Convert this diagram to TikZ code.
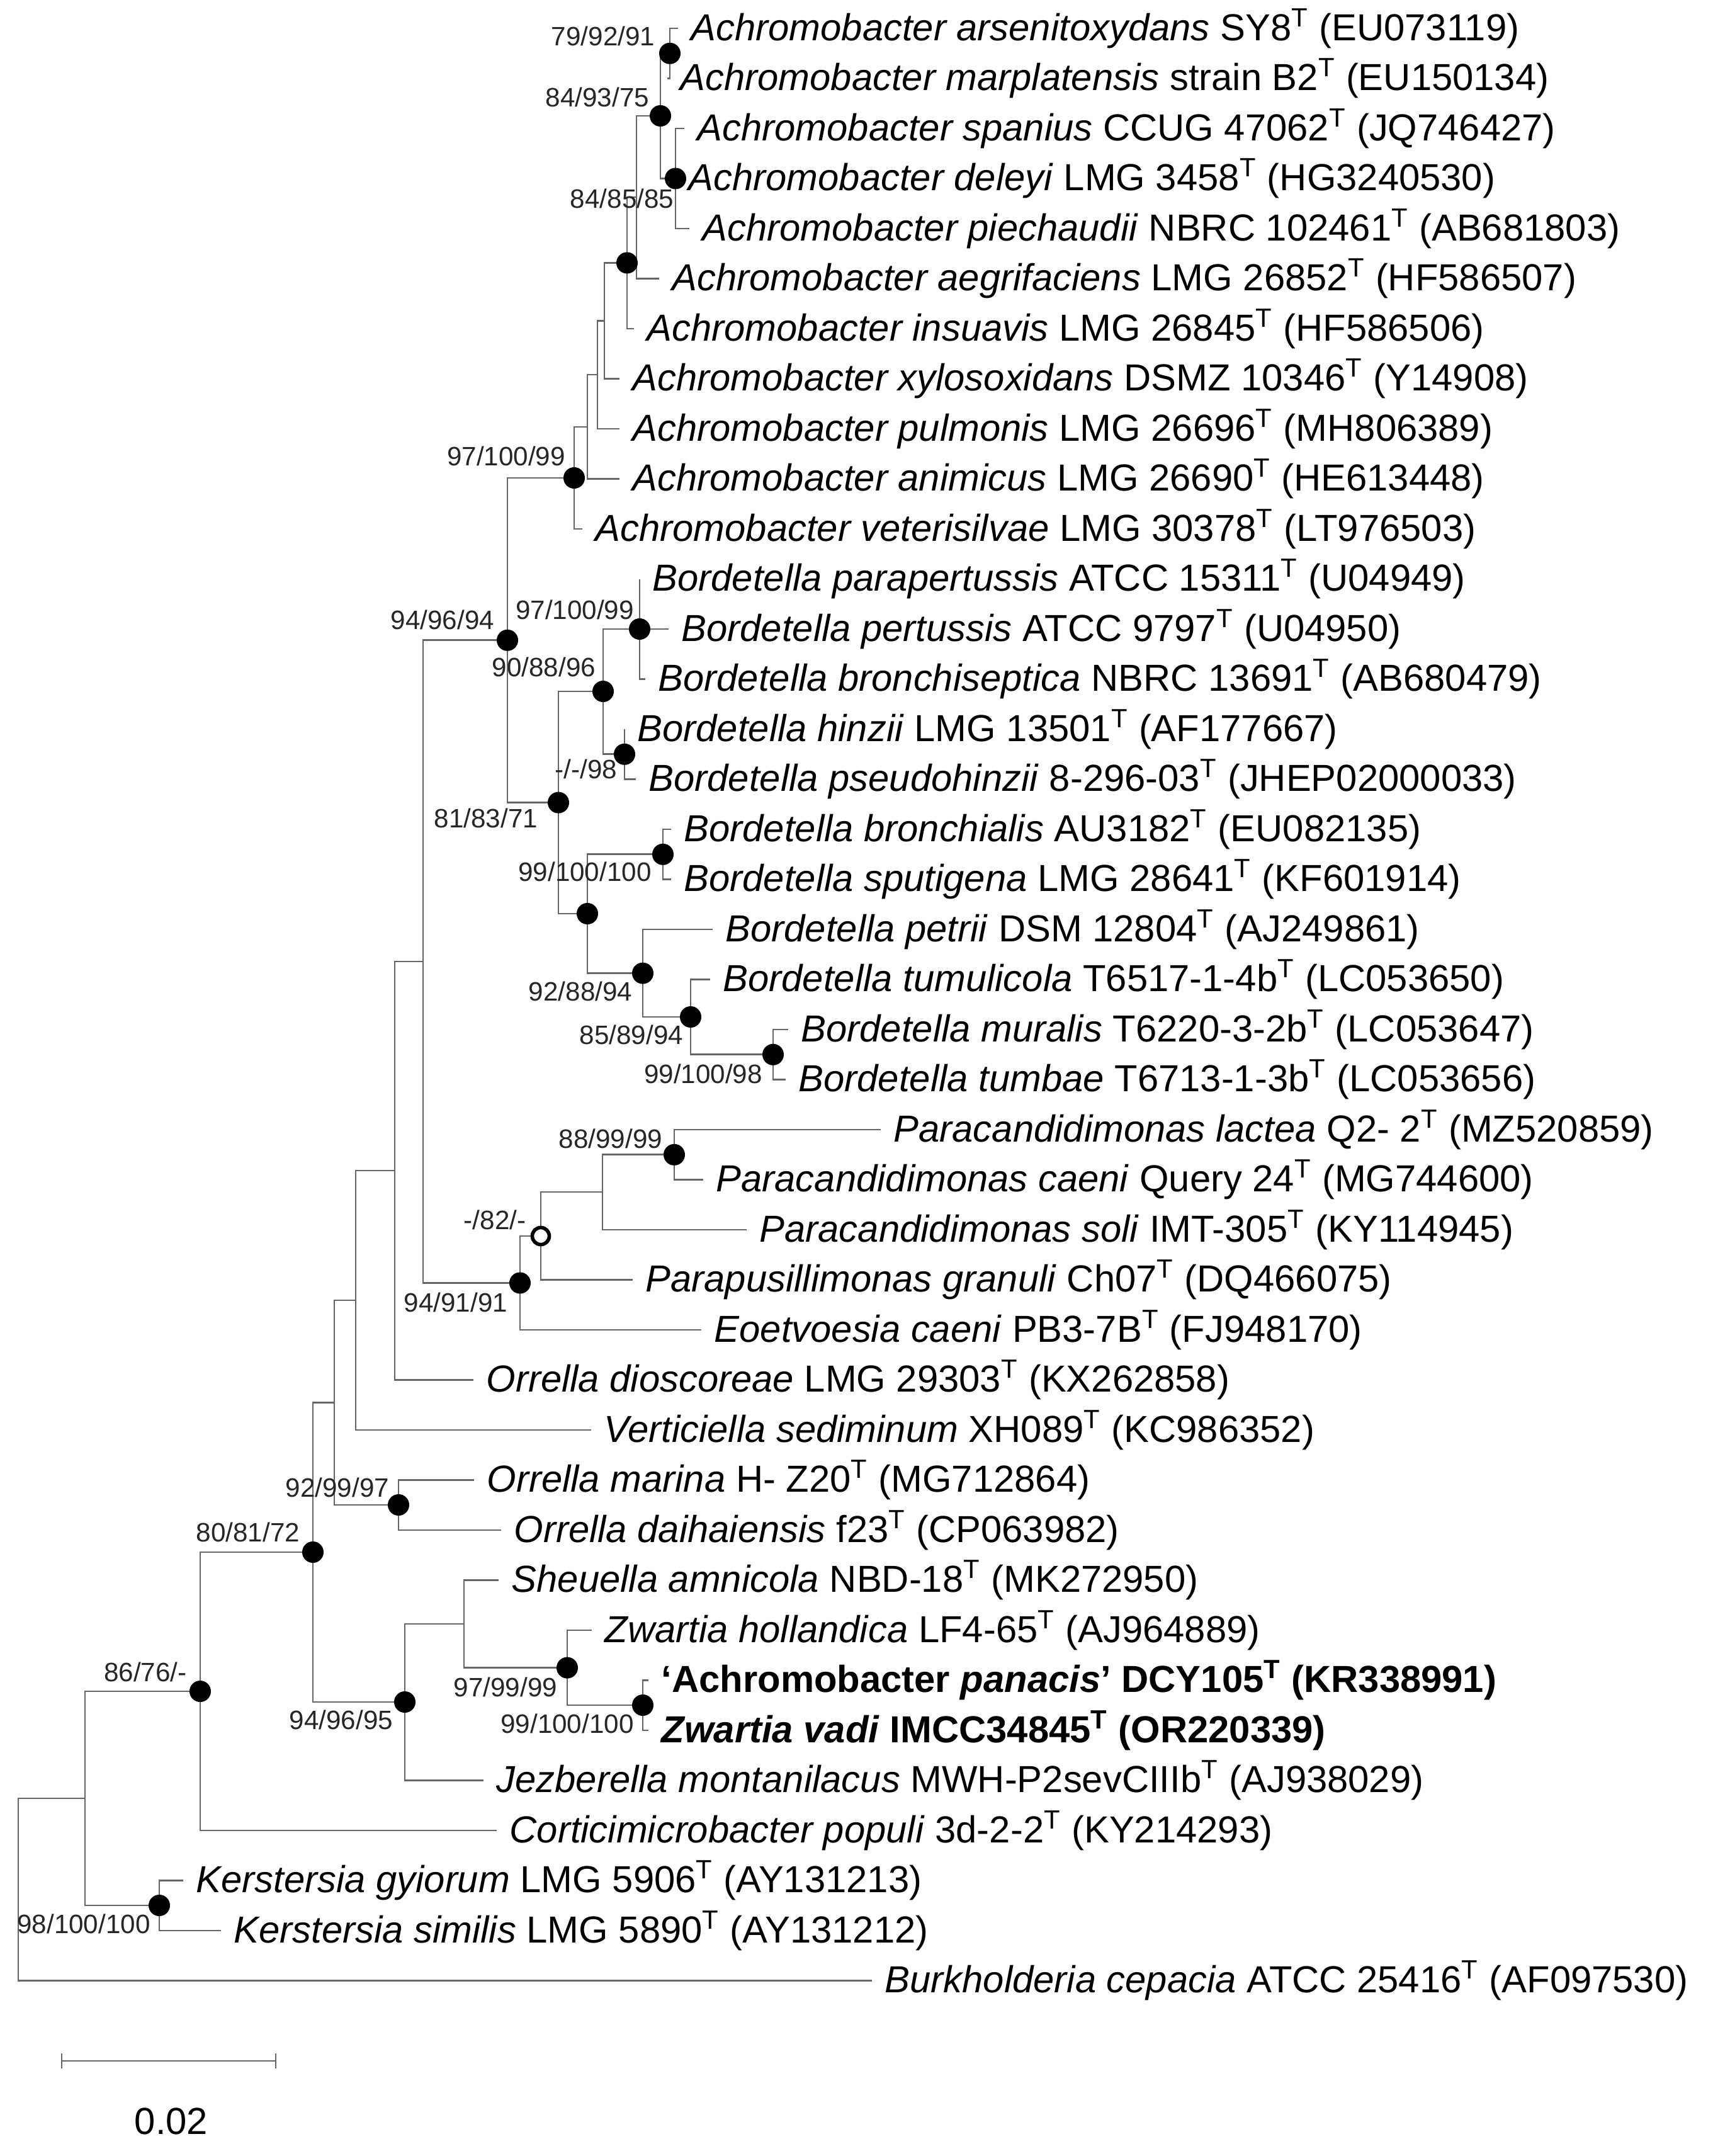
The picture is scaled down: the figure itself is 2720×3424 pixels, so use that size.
\documentclass[tikz,border=0pt]{standalone}
\usepackage{fontspec}
\setmainfont{Liberation Sans}
\usetikzlibrary{calc}
\newcommand{\tstr}{\textsuperscript{T}}
\tikzset{
  branch/.style={draw=black!60, line width=0.8pt},
  dot/.style={circle, fill=black, inner sep=0pt, minimum size=0.34cm},
  odot/.style={circle, draw=black, fill=white, line width=1.6pt, inner sep=0pt, minimum size=0.27cm},
  taxon/.style={anchor=west, inner sep=0pt, xshift=0.2cm, font=\fontsize{17}{20}\selectfont},
  sup/.style={inner sep=0pt, font=\fontsize{12}{14}\selectfont, text=black!85}
}
\begin{document}
\begin{tikzpicture}[x=0.01cm, y=-0.01cm]
\useasboundingbox (0,0) rectangle (2720,3424);
% leaves
\coordinate (l1) at (1077,45);     \coordinate (l2) at (1060,124.5);
\coordinate (l3) at (1087,204);    \coordinate (l4) at (1073,283.5);
\coordinate (l5) at (1095,363);    \coordinate (l6) at (1047,442.5);
\coordinate (l7) at (1007,522);    \coordinate (l8) at (984,601.5);
\coordinate (l9) at (984,681);     \coordinate (l10) at (984,760.5);
\coordinate (l11) at (925,840);    \coordinate (l12) at (1016,919.5);
\coordinate (l13) at (1062,999);   \coordinate (l14) at (1025,1078.5);
\coordinate (l15) at (992,1158);   \coordinate (l16) at (1010,1237.5);
\coordinate (l17) at (1066,1317);  \coordinate (l18) at (1066,1396.5);
\coordinate (l19) at (1132,1476);  \coordinate (l20) at (1128,1555.5);
\coordinate (l21) at (1252,1635);  \coordinate (l22) at (1248,1714.5);
\coordinate (l23) at (1399,1794);  \coordinate (l24) at (1117,1873.5);
\coordinate (l25) at (1186,1953);  \coordinate (l26) at (1005,2032.5);
\coordinate (l27) at (1114,2112);  \coordinate (l28) at (752,2191.5);
\coordinate (l29) at (939,2271);   \coordinate (l30) at (753,2350.5);
\coordinate (l31) at (796,2430);   \coordinate (l32) at (792,2509.5);
\coordinate (l33) at (940,2589);   \coordinate (l34) at (1030,2668.5);
\coordinate (l35) at (1030,2748);  \coordinate (l36) at (768,2827.5);
\coordinate (l37) at (789,2907);   \coordinate (l38) at (291,2986.5);
\coordinate (l39) at (351,3066);   \coordinate (l40) at (1385,3145.5);
% inner nodes
\coordinate (a79) at (1064,84.8);   \coordinate (adel) at (1073,283.5);
\coordinate (a84b) at (1049,184);   \coordinate (ab) at (1011,313);
\coordinate (a84a) at (996,417.5);  \coordinate (ac) at (960,509.5);
\coordinate (ad) at (949,595);      \coordinate (ae) at (933,678);
\coordinate (a97) at (912,759);
\coordinate (b97) at (1016,999);    \coordinate (b98) at (992,1197.8);
\coordinate (b90) at (958,1098);    \coordinate (bbr) at (1053,1356.8);
\coordinate (bmu) at (1228,1674.8); \coordinate (b85) at (1097,1615);
\coordinate (b92) at (1021,1545.6); \coordinate (bc) at (933,1451);
\coordinate (b81) at (887,1274.6);  \coordinate (a94) at (806,1016.8);
\coordinate (p88) at (1071,1833.8); \coordinate (pa) at (957,1893);
\coordinate (p82) at (859,1963);    \coordinate (p94) at (826,2037.5);
\coordinate (r1) at (672,1527);     \coordinate (r2) at (627,1859);
\coordinate (r3) at (565,2065);     \coordinate (o92) at (633,2390);
\coordinate (r4) at (531,2227.6);
\coordinate (z99) at (1021,2708);   \coordinate (z97) at (901,2648.6);
\coordinate (zs) at (737,2579);     \coordinate (z94) at (643,2703);
\coordinate (n80) at (497,2465);    \coordinate (n86) at (318,2686);
\coordinate (k98) at (253,3026);    \coordinate (k62) at (135,2856);
\coordinate (root) at (29,3000.8);
% branches
\foreach \p/\c in {a79/l1, a79/l2, adel/l3, adel/l4, adel/l5, a84b/a79, a84b/adel,
  ab/a84b, ab/l6, a84a/ab, a84a/l7, ac/a84a, ac/l8, ad/ac, ad/l9, ae/ad, ae/l10,
  a97/ae, a97/l11, b97/l12, b97/l13, b97/l14, b98/l15, b98/l16, b90/b97, b90/b98,
  bbr/l17, bbr/l18, bmu/l21, bmu/l22, b85/l20, b85/bmu, b92/l19, b92/b85,
  bc/bbr, bc/b92, b81/b90, b81/bc, a94/a97, a94/b81,
  p88/l23, p88/l24, pa/p88, pa/l25, p82/pa, p82/l26, p94/p82, p94/l27,
  r1/a94, r1/p94, r2/r1, r2/l28, r3/r2, r3/l29, o92/l30, o92/l31, r4/r3, r4/o92,
  z99/l34, z99/l35, z97/l33, z97/z99, zs/l32, zs/z97, z94/zs, z94/l36,
  n80/r4, n80/z94, n86/n80, n86/l37, k98/l38, k98/l39, k62/n86, k62/k98,
  root/k62, root/l40}
  \draw[branch] (\p) |- (\c);
% support dots
\foreach \n in {a79, adel, a84b, a84a, a97, b97, b98, b90, bbr, bmu, b85, b92, bc,
  b81, a94, p88, p94, o92, z99, z97, z94, n80, n86, k98}
  \node[dot] at (\n) {};
\node[odot] at (p82) {};
% support values
\node[sup] at (958,57) {79/92/91};
\node[sup] at (949,154) {84/93/75};
\node[sup] at (988,315) {84/85/85};
\node[sup] at (804,724) {97/100/99};
\node[sup] at (703,984) {94/96/94};
\node[sup] at (913,968) {97/100/99};
\node[sup] at (864,1059) {90/88/96};
\node[sup] at (931,1221) {-/-/98};
\node[sup] at (772,1299) {81/83/71};
\node[sup] at (929,1384) {99/100/100};
\node[sup] at (922,1574) {92/88/94};
\node[sup] at (1003,1643) {85/89/94};
\node[sup] at (1117,1705) {99/100/98};
\node[sup] at (970,1808) {88/99/99};
\node[sup] at (786,1937) {-/82/-};
\node[sup] at (724,2068) {94/91/91};
\node[sup] at (536,2362) {92/99/97};
\node[sup] at (394,2433) {80/81/72};
\node[sup] at (231,2655) {86/76/-};
\node[sup] at (542,2731) {94/96/95};
\node[sup] at (803,2679) {97/99/99};
\node[sup] at (901,2737) {99/100/100};
\node[sup] at (133,3055) {98/100/100};
% taxa
\node[taxon] (t1) at (l1) {\textit{Achromobacter arsenitoxydans} SY8\tstr{} (EU073119)};
\node[taxon] (t2) at (l2) {\textit{Achromobacter marplatensis} strain B2\tstr{} (EU150134)};
\node[taxon] (t3) at (l3) {\textit{Achromobacter spanius} CCUG 47062\tstr{} (JQ746427)};
\node[taxon] (t4) at (l4) {\textit{Achromobacter deleyi} LMG 3458\tstr{} (HG3240530)};
\node[taxon] (t5) at (l5) {\textit{Achromobacter piechaudii} NBRC 102461\tstr{} (AB681803)};
\node[taxon] (t6) at (l6) {\textit{Achromobacter aegrifaciens} LMG 26852\tstr{} (HF586507)};
\node[taxon] (t7) at (l7) {\textit{Achromobacter insuavis} LMG 26845\tstr{} (HF586506)};
\node[taxon] (t8) at (l8) {\textit{Achromobacter xylosoxidans} DSMZ 10346\tstr{} (Y14908)};
\node[taxon] (t9) at (l9) {\textit{Achromobacter pulmonis} LMG 26696\tstr{} (MH806389)};
\node[taxon] (t10) at (l10) {\textit{Achromobacter animicus} LMG 26690\tstr{} (HE613448)};
\node[taxon] (t11) at (l11) {\textit{Achromobacter veterisilvae} LMG 30378\tstr{} (LT976503)};
\node[taxon] (t12) at (l12) {\textit{Bordetella parapertussis} ATCC 15311\tstr{} (U04949)};
\node[taxon] (t13) at (l13) {\textit{Bordetella pertussis} ATCC 9797\tstr{} (U04950)};
\node[taxon] (t14) at (l14) {\textit{Bordetella bronchiseptica} NBRC 13691\tstr{} (AB680479)};
\node[taxon] (t15) at (l15) {\textit{Bordetella hinzii} LMG 13501\tstr{} (AF177667)};
\node[taxon] (t16) at (l16) {\textit{Bordetella pseudohinzii} 8-296-03\tstr{} (JHEP02000033)};
\node[taxon] (t17) at (l17) {\textit{Bordetella bronchialis} AU3182\tstr{} (EU082135)};
\node[taxon] (t18) at (l18) {\textit{Bordetella sputigena} LMG 28641\tstr{} (KF601914)};
\node[taxon] (t19) at (l19) {\textit{Bordetella petrii} DSM 12804\tstr{} (AJ249861)};
\node[taxon] (t20) at (l20) {\textit{Bordetella tumulicola} T6517-1-4b\tstr{} (LC053650)};
\node[taxon] (t21) at (l21) {\textit{Bordetella muralis} T6220-3-2b\tstr{} (LC053647)};
\node[taxon] (t22) at (l22) {\textit{Bordetella tumbae} T6713-1-3b\tstr{} (LC053656)};
\node[taxon] (t23) at (l23) {\textit{Paracandidimonas lactea} Q2- 2\tstr{} (MZ520859)};
\node[taxon] (t24) at (l24) {\textit{Paracandidimonas caeni} Query 24\tstr{} (MG744600)};
\node[taxon] (t25) at (l25) {\textit{Paracandidimonas soli} IMT-305\tstr{} (KY114945)};
\node[taxon] (t26) at (l26) {\textit{Parapusillimonas granuli} Ch07\tstr{} (DQ466075)};
\node[taxon] (t27) at (l27) {\textit{Eoetvoesia caeni} PB3-7B\tstr{} (FJ948170)};
\node[taxon] (t28) at (l28) {\textit{Orrella dioscoreae} LMG 29303\tstr{} (KX262858)};
\node[taxon] (t29) at (l29) {\textit{Verticiella sediminum} XH089\tstr{} (KC986352)};
\node[taxon] (t30) at (l30) {\textit{Orrella marina} H- Z20\tstr{} (MG712864)};
\node[taxon] (t31) at (l31) {\textit{Orrella daihaiensis} f23\tstr{} (CP063982)};
\node[taxon] (t32) at (l32) {\textit{Sheuella amnicola} NBD-18\tstr{} (MK272950)};
\node[taxon] (t33) at (l33) {\textit{Zwartia hollandica} LF4-65\tstr{} (AJ964889)};
\node[taxon] (t34) at (l34) {\textbf{`Achromobacter \textit{panacis}' DCY105\tstr{} (KR338991)}};
\node[taxon] (t35) at (l35) {\textbf{\textit{Zwartia vadi} IMCC34845\tstr{} (OR220339)}};
\node[taxon] (t36) at (l36) {\textit{Jezberella montanilacus} MWH-P2sevCIIIb\tstr{} (AJ938029)};
\node[taxon] (t37) at (l37) {\textit{Corticimicrobacter populi} 3d-2-2\tstr{} (KY214293)};
\node[taxon] (t38) at (l38) {\textit{Kerstersia gyiorum} LMG 5906\tstr{} (AY131213)};
\node[taxon] (t39) at (l39) {\textit{Kerstersia similis} LMG 5890\tstr{} (AY131212)};
\node[taxon] (t40) at (l40) {\textit{Burkholderia cepacia} ATCC 25416\tstr{} (AF097530)};
% scale bar
\coordinate (sb1) at (98,3273);
\coordinate (sb2) at (438,3273);
\draw[branch] (sb1) -- (sb2);
\draw[branch] ($(sb1)+(0,-12)$) -- ($(sb1)+(0,12)$);
\draw[branch] ($(sb2)+(0,-12)$) -- ($(sb2)+(0,12)$);
\node[font=\fontsize{17}{20}\selectfont] (sbl) at (272,3369) {0.02};
\end{tikzpicture}
\end{document}
